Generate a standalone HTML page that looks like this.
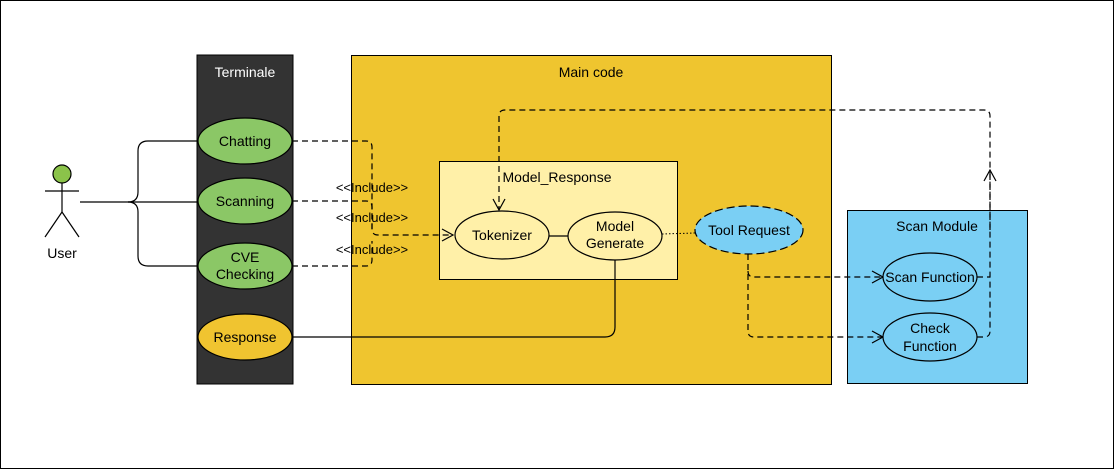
<!DOCTYPE html>
<html><head><style>body{margin:0;background:#fff}svg{display:block;font-family:"Liberation Sans",sans-serif}</style></head>
<body>
<svg width="1114" height="469" viewBox="0 0 1114 469">
<defs>
<marker id="oa" markerWidth="14" markerHeight="14" refX="12" refY="7" orient="auto" markerUnits="userSpaceOnUse"><path d="M1,1 L12,7 L1,13" fill="none" stroke="#000" stroke-width="1.2"/></marker>
</defs>
<rect x="0.5" y="0.5" width="1113" height="468" fill="#fff" stroke="#000"/>
<rect x="197" y="55" width="96" height="329" fill="#333" stroke="#000"/>
<text x="245" y="77" fill="#fff" font-size="14" text-anchor="middle">Terminale</text>
<rect x="351.5" y="55.5" width="480" height="329" fill="#EFC52F" stroke="#000"/>
<text x="591" y="77" font-size="14" text-anchor="middle">Main code</text>
<rect x="439.5" y="161.5" width="238" height="118" fill="#FFF0A8" stroke="#000"/>
<text x="557" y="182" font-size="14" text-anchor="middle">Model_Response</text>
<rect x="847.5" y="210.5" width="180" height="173" fill="#7ACFF4" stroke="#000"/>
<text x="937" y="231" font-size="14" text-anchor="middle">Scan Module</text>
<g stroke="#000" stroke-width="1.2" fill="none">
<circle cx="62" cy="174" r="9" fill="#8BC34A"/>
<line x1="62" y1="183" x2="62" y2="212"/><line x1="45" y1="191" x2="79" y2="191"/>
<line x1="62" y1="212" x2="45" y2="237"/><line x1="62" y1="212" x2="79" y2="237"/>
<path d="M80,202 H128 Q138,202 138,192 V151 Q138,141 148,141 H198"/>
<path d="M128,202 H198"/>
<path d="M128,202 Q138,202 138,212 V256 Q138,266 148,266 H198"/>
<path d="M292,337 H605 Q615,337 615,327 V260"/>
<line x1="548" y1="236" x2="568" y2="236"/>
</g>
<text x="62" y="258" font-size="14" text-anchor="middle">User</text>
<g stroke="#000" stroke-width="1.2" fill="none" stroke-dasharray="6,4">
<path d="M292,141 H366 Q372,141 372,147 V229 Q372,235 378,235 H453" marker-end="url(#oa)"/>
<path d="M292,201 H366 Q372,201 372,207 V229"/>
<path d="M292,266 H366 Q372,266 372,260 V241"/>
<path d="M977,337 H984 Q990,337 990,331 V116 Q990,110 984,110 H505 Q499,110 499,116 V210" marker-end="url(#oa)"/>
<path d="M990,230 V170" marker-end="url(#oa)"/>
<path d="M977,277 H990"/>
<path d="M748,254 V331 Q748,337 754,337 H883" marker-end="url(#oa)"/>
<path d="M748,271 Q748,277 754,277 H883" marker-end="url(#oa)"/>
</g>
<line x1="662" y1="234" x2="695" y2="233" stroke="#000" stroke-dasharray="1.5,2"/>
<text x="372" y="192" font-size="13" text-anchor="middle">&lt;&lt;Include&gt;&gt;</text>
<text x="372" y="222" font-size="13" text-anchor="middle">&lt;&lt;Include&gt;&gt;</text>
<text x="372" y="254" font-size="13" text-anchor="middle">&lt;&lt;Include&gt;&gt;</text>
<g stroke="#000" stroke-width="1.2" font-size="14" text-anchor="middle">
<ellipse cx="245" cy="141" rx="47" ry="23" fill="#8BC766"/>
<ellipse cx="245" cy="201" rx="47" ry="23" fill="#8BC766"/>
<ellipse cx="245" cy="266" rx="47" ry="23" fill="#8BC766"/>
<ellipse cx="245" cy="337" rx="47" ry="23" fill="#F0C430"/>
<ellipse cx="502" cy="235" rx="47" ry="24" fill="#FFF0A8"/>
<ellipse cx="615" cy="236" rx="47" ry="24" fill="#FFF0A8"/>
<ellipse cx="749" cy="230" rx="54" ry="24" fill="#7ACFF4" stroke-dasharray="8,4"/>
<ellipse cx="930" cy="277" rx="47" ry="24" fill="#7ACFF4"/>
<ellipse cx="930" cy="337" rx="47" ry="24" fill="#7ACFF4"/>
</g>
<g font-size="14" text-anchor="middle" fill="#000">
<text x="245" y="146">Chatting</text>
<text x="245" y="262">CVE</text><text x="245" y="279">Checking</text>
<text x="245" y="206">Scanning</text>
<text x="245" y="342">Response</text>
<text x="502" y="240">Tokenizer</text>
<text x="615" y="231">Model</text><text x="615" y="248">Generate</text>
<text x="749" y="235">Tool Request</text>
<text x="930" y="282">Scan Function</text>
<text x="930" y="333">Check</text><text x="930" y="351">Function</text>
</g>
</svg>
</body></html>
